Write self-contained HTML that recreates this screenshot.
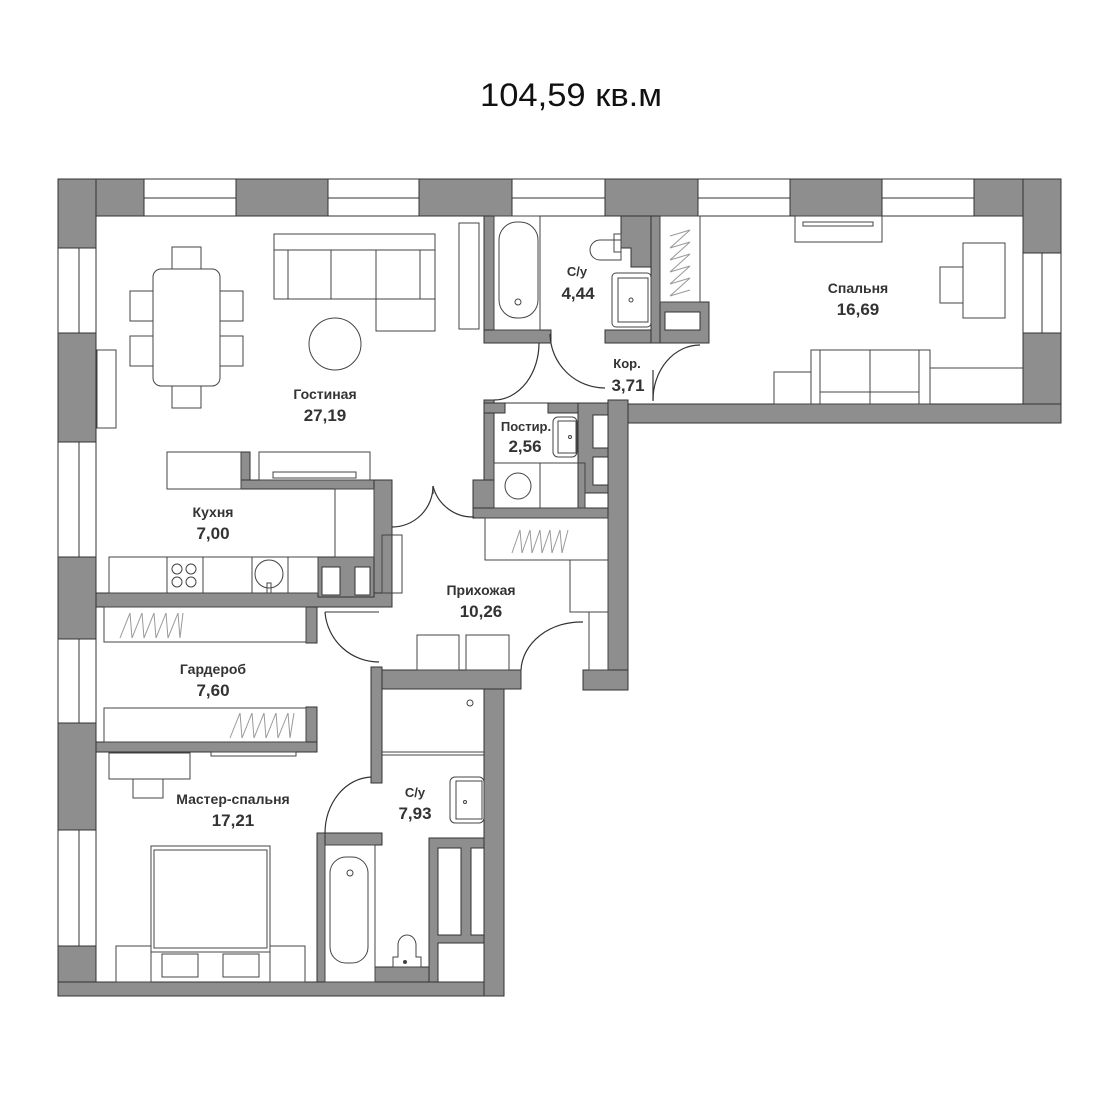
<!DOCTYPE html>
<html><head><meta charset="utf-8"><style>
html,body{margin:0;padding:0;background:#fff;}
svg{display:block;}
text{font-family:"Liberation Sans",Arial,sans-serif;fill:#333;}
.l{font-size:14px;font-weight:bold;text-anchor:middle;}
.n{font-size:17px;font-weight:bold;text-anchor:middle;}
</style></head><body>
<svg width="1120" height="1120" viewBox="0 0 1120 1120" xmlns="http://www.w3.org/2000/svg">
<text x="571" y="106" font-size="32" text-anchor="middle" textLength="182" lengthAdjust="spacingAndGlyphs" style="fill:#111">104,59 кв.м</text>

<g fill="#8e8e8e" stroke="#333" stroke-width="1">
<rect x="58" y="179" width="1003" height="37"/>
<rect x="58" y="179" width="38" height="817"/>
<rect x="58" y="982" width="446" height="14"/>
<rect x="1023" y="179" width="38" height="244"/>
<rect x="628" y="404" width="433" height="19"/>
<rect x="608" y="400" width="20" height="290"/>
<rect x="583" y="670" width="45" height="20"/>
<rect x="371" y="670" width="150" height="19"/>
<rect x="484" y="689" width="20" height="307"/>
<rect x="484" y="216" width="10" height="127"/>
<rect x="484" y="330" width="67" height="13"/>
<rect x="605" y="330" width="104" height="13"/>
<rect x="651" y="216" width="9" height="127"/>
<path d="M621 216 H651 V267 H631 V248 H621 Z"/>
<rect x="660" y="302" width="49" height="41"/>
<rect x="484" y="400" width="10" height="118"/>
<rect x="484" y="403" width="21" height="10"/>
<rect x="548" y="403" width="35" height="10"/>
<rect x="578" y="403" width="30" height="114"/>
<rect x="473" y="480" width="21" height="38"/>
<rect x="473" y="508" width="135" height="10"/>
<rect x="241" y="452" width="9" height="37"/>
<rect x="241" y="480" width="151" height="9"/>
<rect x="374" y="480" width="18" height="123"/>
<rect x="96" y="593" width="296" height="14"/>
<rect x="318" y="557" width="56" height="40"/>
<rect x="306" y="607" width="11" height="36"/>
<rect x="306" y="707" width="11" height="45"/>
<rect x="96" y="742" width="221" height="10"/>
<rect x="371" y="667" width="11" height="116"/>
<rect x="317" y="833" width="65" height="12"/>
<rect x="317" y="833" width="8" height="149"/>
<rect x="375" y="967" width="63" height="15"/>
<rect x="429" y="838" width="55" height="144"/>
</g>

<g fill="#fff" stroke="#333" stroke-width="1">
<rect x="144" y="179" width="92" height="37"/><rect x="328" y="179" width="91" height="37"/>
<rect x="512" y="179" width="93" height="37"/><rect x="698" y="179" width="92" height="37"/>
<rect x="882" y="179" width="92" height="37"/>
<rect x="58" y="248" width="38" height="85"/><rect x="58" y="442" width="38" height="115"/>
<rect x="58" y="639" width="38" height="84"/><rect x="58" y="830" width="38" height="116"/>
<rect x="1023" y="253" width="38" height="80"/>
</g>
<g stroke="#333" stroke-width="1">
<line x1="144" y1="198" x2="236" y2="198"/><line x1="328" y1="198" x2="419" y2="198"/>
<line x1="512" y1="198" x2="605" y2="198"/><line x1="698" y1="198" x2="790" y2="198"/>
<line x1="882" y1="198" x2="974" y2="198"/>
<line x1="79" y1="248" x2="79" y2="333"/><line x1="79" y1="442" x2="79" y2="557"/>
<line x1="79" y1="639" x2="79" y2="723"/><line x1="79" y1="830" x2="79" y2="946"/>
<line x1="1042" y1="253" x2="1042" y2="333"/>
</g>

<g fill="#fff" stroke="#333" stroke-width="1">
<rect x="665" y="312" width="35" height="18"/>
<rect x="593" y="415" width="15" height="33"/>
<rect x="593" y="457" width="15" height="28"/>
<rect x="585" y="493" width="23" height="15"/>
<rect x="322" y="567" width="18" height="28"/>
<rect x="355" y="567" width="15" height="28"/>
<rect x="438" y="848" width="23" height="87"/>
<rect x="471" y="848" width="13" height="87"/>
<rect x="438" y="943" width="46" height="39"/>
</g>

<g fill="none" stroke="#444" stroke-width="1">
<rect x="153" y="269" width="67" height="117" rx="8"/>
<rect x="172" y="247" width="29" height="22"/><rect x="172" y="386" width="29" height="22"/>
<rect x="130" y="291" width="23" height="30"/><rect x="130" y="336" width="23" height="30"/>
<rect x="220" y="291" width="23" height="30"/><rect x="220" y="336" width="23" height="30"/>
<rect x="97" y="350" width="19" height="78"/>
<rect x="274" y="234" width="161" height="65"/><line x1="274" y1="250" x2="435" y2="250"/>
<line x1="288" y1="250" x2="288" y2="299"/><line x1="331" y1="250" x2="331" y2="299"/>
<line x1="376" y1="250" x2="376" y2="331"/><line x1="420" y1="250" x2="420" y2="299"/>
<rect x="376" y="299" width="59" height="32"/>
<ellipse cx="335" cy="344" rx="26" ry="26"/>
<rect x="459" y="223" width="20" height="106"/>
<rect x="494" y="216" width="46" height="114"/>
<rect x="499" y="222" width="39" height="96" rx="18"/>
<circle cx="518" cy="302" r="3"/>
<path d="M621 240 H600 a10 10 0 0 0 0 20 H621 Z"/><rect x="614" y="234" width="7" height="18"/>
<rect x="612" y="273" width="39" height="54" rx="4"/><rect x="618" y="278" width="30" height="44"/>
<circle cx="631" cy="300" r="2"/>
<rect x="660" y="216" width="40" height="86"/>
<rect x="795" y="216" width="87" height="26"/><rect x="803" y="222" width="70" height="4"/>
<rect x="963" y="243" width="42" height="75"/><rect x="940" y="267" width="23" height="36"/>
<rect x="811" y="350" width="119" height="54"/>
<line x1="820" y1="350" x2="820" y2="404"/><line x1="870" y1="350" x2="870" y2="404"/><line x1="919" y1="350" x2="919" y2="404"/>
<line x1="820" y1="392" x2="919" y2="392"/>
<rect x="774" y="372" width="37" height="32"/>
<polyline points="930,368 1023,368"/>
<rect x="553" y="417" width="24" height="40" rx="5"/><rect x="558" y="421" width="18" height="32"/>
<circle cx="570" cy="437" r="1.5"/>
<rect x="494" y="463" width="46" height="45"/><rect x="540" y="463" width="45" height="45"/>
<circle cx="518" cy="486" r="13"/>
<rect x="167" y="452" width="74" height="37"/>
<rect x="259" y="452" width="111" height="28"/><rect x="273" y="472" width="83" height="6"/>
<rect x="335" y="489" width="39" height="68"/>
<rect x="109" y="557" width="209" height="36"/>
<line x1="167" y1="557" x2="167" y2="593"/><line x1="203" y1="557" x2="203" y2="593"/>
<line x1="252" y1="557" x2="252" y2="593"/><line x1="288" y1="557" x2="288" y2="593"/>
<circle cx="177" cy="569" r="5"/><circle cx="191" cy="569" r="5"/><circle cx="177" cy="582" r="5"/><circle cx="191" cy="582" r="5"/>
<circle cx="269" cy="574" r="14"/><rect x="267" y="583" width="4" height="10"/>
<rect x="382" y="535" width="20" height="58"/>
<rect x="485" y="518" width="123" height="42"/>
<rect x="570" y="560" width="38" height="52"/><rect x="589" y="612" width="19" height="58"/>
<rect x="417" y="635" width="42" height="35"/><rect x="466" y="635" width="43" height="35"/>
<rect x="104" y="607" width="202" height="35"/>
<rect x="104" y="708" width="202" height="34"/>
<rect x="109" y="753" width="81" height="26"/><rect x="133" y="779" width="30" height="19"/>
<rect x="211" y="752" width="85" height="4"/>
<rect x="151" y="846" width="119" height="106"/><rect x="154" y="850" width="113" height="98"/>
<rect x="116" y="946" width="35" height="36"/><rect x="270" y="946" width="35" height="36"/>
<rect x="162" y="954" width="36" height="23"/><rect x="223" y="954" width="36" height="23"/>
<line x1="382" y1="752" x2="484" y2="752"/><line x1="382" y1="755" x2="484" y2="755"/>
<circle cx="470" cy="703" r="3"/>
<rect x="450" y="777" width="34" height="46" rx="5"/><rect x="456" y="781" width="26" height="38"/>
<circle cx="465" cy="802" r="1.5"/>
<rect x="325" y="845" width="50" height="137"/>
<rect x="330" y="857" width="38" height="106" rx="16"/>
<circle cx="350" cy="873" r="3"/>
<path d="M393 967 v-10 h5 v-12 a9 10 0 0 1 18 0 v12 h5 v10 Z"/>
<circle cx="405" cy="962" r="1.5" fill="#444"/>
</g>

<g fill="none" stroke="#999" stroke-width="1">
<polyline points="670,236 690,230 670,248 690,242 670,260 690,254 670,272 690,266 670,284 690,278 670,296 690,290"/>
<polyline points="512,553 520,530 522,553 530,530 532,553 540,530 542,553 550,530 552,553 560,530 562,553 568,530"/>
<polyline points="120,638 130,613 132,638 142,613 144,638 154,613 156,638 166,613 168,638 178,613 180,638 183,613"/>
<polyline points="230,738 240,713 242,738 252,713 254,738 264,713 266,738 276,713 278,738 288,713 290,738 294,713"/>
</g>

<g fill="none" stroke="#333" stroke-width="1.2">
<path d="M539 343 A45 57 0 0 1 494 400"/>
<path d="M550 334 A55 55 0 0 0 605 388"/>
<path d="M700 345 A47 55 0 0 0 653 400"/><line x1="653" y1="370" x2="653" y2="401"/>
<line x1="494" y1="403" x2="548" y2="403" stroke-width="1"/>
<line x1="628" y1="404" x2="709" y2="404" stroke-width="1"/>
<path d="M433 486 A41 41 0 0 1 392 527"/>
<path d="M433 486 A41 41 0 0 0 474 517"/>
<line x1="433" y1="486" x2="433" y2="494"/>
<path d="M325 612 A54 54 0 0 0 379 662"/><line x1="325" y1="612" x2="379" y2="612" stroke-width="1"/>
<path d="M583 622 A60 50 0 0 0 521 670"/>
<path d="M371 777 A48 56 0 0 0 325 833"/>
</g>

<text class="l" x="325" y="399">Гостиная</text><text class="n" x="325" y="421">27,19</text>
<text class="l" x="577" y="276" style="font-size:13px">С/у</text><text class="n" x="578" y="299">4,44</text>
<text class="l" x="627" y="368" style="font-size:13px">Кор.</text><text class="n" x="628" y="391">3,71</text>
<text class="l" x="858" y="293">Спальня</text><text class="n" x="858" y="315">16,69</text>
<text class="l" x="526" y="431" style="font-size:13px">Постир.</text><text class="n" x="525" y="452">2,56</text>
<text class="l" x="213" y="517">Кухня</text><text class="n" x="213" y="539">7,00</text>
<text class="l" x="481" y="595">Прихожая</text><text class="n" x="481" y="617">10,26</text>
<text class="l" x="213" y="674">Гардероб</text><text class="n" x="213" y="696">7,60</text>
<text class="l" x="233" y="804">Мастер-спальня</text><text class="n" x="233" y="826">17,21</text>
<text class="l" x="415" y="797" style="font-size:13px">С/у</text><text class="n" x="415" y="819">7,93</text>
</svg>
</body></html>
